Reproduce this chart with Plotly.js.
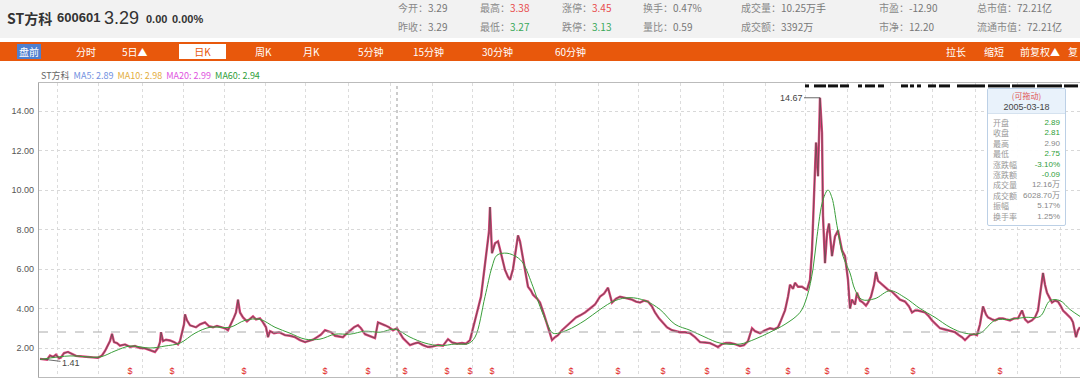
<!DOCTYPE html>
<html><head><meta charset="utf-8">
<script src="https://cdn.plot.ly/plotly-3.0.1.min.js"></script>
<style>
html,body{margin:0;padding:0;width:1080px;height:378px;overflow:hidden;background:#fff;font-family:"Noto Sans CJK SC","Liberation Sans",sans-serif;}
#chart{position:absolute;left:0;top:0;width:1092px;height:378px;}
.abs{position:absolute;white-space:nowrap;line-height:1.15;}
#hdr{position:absolute;left:0;top:0;width:1080px;height:38px;background:#f2f2f2;z-index:5;}
#nav{position:absolute;left:0;top:42px;width:1080px;height:19px;background:#e8580c;z-index:5;}
#tip{position:absolute;left:987px;top:88px;width:77px;height:136px;border:1px solid #bcd0e6;background:rgba(255,255,255,0.93);z-index:6;border-radius:2px;}
.tl{position:absolute;left:5px;font-size:8px;color:#999;line-height:9px;height:9px;white-space:nowrap;}
.tv{position:absolute;right:5px;font-size:8px;line-height:9px;height:9px;white-space:nowrap;font-family:"Liberation Sans","Noto Sans CJK SC",sans-serif;}
</style></head><body>
<div id="chart"></div>
<div id="hdr"></div>
<div id="nav"></div>
<div id="legend" class="abs" style="left:41px;top:71px;font-size:9px;z-index:5;"></div>
<div id="tip"></div>
<script>
// ---------- data ----------
const stockName = "ST方科";
const stockCode = "600601";
const lastPrice = "3.29";
const change = "0.00";
const changePct = "0.00%";
const statLabels1 = ["今开","最高","涨停","换手","成交量","市盈","总市值"];
const statValues1 = ["3.29","3.38","3.45","0.47%","10.25万手","-12.90","72.21亿"];
const statLabels2 = ["昨收","最低","跌停","量比","成交额","市净","流通市值"];
const statValues2 = ["3.29","3.27","3.13","0.59","3392万","12.20","72.21亿"];
const navLabels = ["盘前","分时","5日▲","日K","周K","月K","5分钟","15分钟","30分钟","60分钟","拉长","缩短","前复权▲","复"];
const maNames = ["MA5","MA10","MA20","MA60"];
const maValues = ["2.89","2.98","2.99","2.94"];
const tipDate = "2005-03-18";
const tipLabels = ["开盘","收盘","最高","最低","涨跌幅","涨跌额","成交量","成交额","振幅","换手率"];
const tipValues = ["2.89","2.81","2.90","2.75","-3.10%","-0.09","12.16万","6028.70万","5.17%","1.25%"];
const tipTrend = ["down","down","flat","down","down","down","flat","flat","flat","flat"];

// daily bar index (time) and close price
const closeBar = [1,5,8,11,14,17,20,22,25,29,33,37,41,47,53,59,63,66,69,71,
73,75,78,81,86,91,96,101,106,111,116,119,121,122,124,127,131,135,139,141,
143,145,146,148,151,154,157,161,166,170,174,178,182,186,189,192,195,197,199,201,
204,208,211,214,217,221,224,227,229,231,235,240,246,251,256,261,266,270,274,278,
282,286,289,292,296,300,304,307,311,315,319,322,326,331,336,339,342,346,350,354,
358,361,364,368,371,375,379,384,389,394,399,404,409,413,418,423,427,431,434,438,
442,445,448,450,451,453,456,459,461,464,466,469,471,474,476,478,479,481,484,487,
489,492,494,498,501,505,509,511,513,516,519,523,526,530,533,537,541,546,551,556,
561,565,569,571,573,577,581,585,589,593,597,601,605,609,613,616,620,624,628,633,
637,641,646,651,656,661,666,671,675,679,683,687,691,696,701,705,709,713,716,721,
726,731,735,739,742,746,749,751,754,756,759,763,766,768,771,773,774,776,777,779,
781,783,784,786,788,790,793,796,799,803,806,809,811,813,816,818,821,824,827,829,
832,835,837,839,841,845,849,853,856,861,866,870,873,876,879,883,886,890,893,897,
901,905,909,913,916,920,923,926,929,931,935,938,941,943,944,947,949,953,956,960,
964,967,971,975,979,981,983,986,989,993,996,999,1001,1003,1004,1006,1008,1011,1013,1016,
1019,1022,1024,1027,1029,1032,1034,1037,1039,1041];
const closeValue = [1.45,1.43,1.41,1.62,1.55,1.66,1.48,1.52,1.74,1.80,1.70,1.60,1.58,1.55,1.52,1.50,1.62,1.85,2.15,2.35,
2.72,2.30,2.25,2.12,2.18,2.06,2.10,2.00,1.98,1.90,1.80,2.00,2.30,2.80,2.35,2.42,2.38,2.30,2.18,2.35,
2.75,3.20,3.70,3.40,3.15,3.10,3.05,3.20,3.30,3.10,3.05,3.12,3.05,3.00,2.90,3.20,3.55,3.80,4.45,3.80,
3.55,3.35,3.50,3.60,3.45,3.50,3.30,3.05,2.55,2.85,2.75,2.80,2.65,2.62,2.55,2.40,2.30,2.35,2.42,2.55,
2.68,2.90,2.85,2.80,2.62,2.58,2.55,2.70,2.90,3.05,3.15,3.00,2.70,2.60,2.50,3.30,3.25,3.15,3.05,2.90,
3.00,2.75,2.50,2.30,2.15,2.22,2.28,2.15,2.05,2.08,2.15,2.12,2.45,2.28,2.22,2.25,2.22,2.40,3.05,3.80,
4.60,5.80,7.10,7.90,9.14,6.80,7.30,7.40,7.00,6.30,5.95,5.60,5.45,6.00,6.60,7.30,7.70,7.40,6.60,5.80,
5.10,4.90,4.70,4.50,4.30,3.70,3.05,2.70,2.40,2.55,2.65,2.90,3.05,3.20,3.40,3.55,3.65,3.80,4.00,4.20,
4.60,4.75,5.05,4.70,4.30,4.50,4.60,4.55,4.50,4.45,4.35,4.30,4.40,4.35,4.10,3.80,3.50,3.25,3.05,2.90,
2.85,2.80,2.80,2.75,2.55,2.30,2.28,2.25,2.15,2.05,2.20,2.25,2.25,2.20,2.10,2.15,2.35,3.00,2.85,2.75,
2.90,3.00,2.95,3.05,3.40,3.90,4.60,5.20,5.00,5.30,5.10,5.10,5.00,4.95,5.45,6.95,8.30,11.00,12.40,10.70,
14.67,12.90,8.70,6.30,7.80,8.30,6.65,7.65,7.95,6.95,6.65,5.45,4.00,4.45,4.20,4.80,4.40,4.30,4.15,4.30,
4.60,5.20,5.85,5.40,5.30,5.10,4.95,4.85,4.70,4.45,4.35,4.10,3.80,3.90,3.90,3.85,3.80,3.60,3.40,3.20,
3.00,2.95,2.90,2.85,2.80,2.65,2.55,2.40,2.55,2.65,2.70,2.65,3.20,3.90,4.10,3.70,3.55,3.45,3.40,3.50,
3.50,3.45,3.40,3.50,3.50,3.70,3.90,3.45,3.30,3.40,3.55,3.90,4.60,5.30,5.80,5.20,4.80,4.50,4.30,4.40,
4.35,4.10,3.90,3.75,3.65,3.50,3.30,2.55,2.90,3.05];

// MA60
const ma60Bar = [1,31,61,76,91,111,126,141,156,171,191,206,221,236,251,266,281,296,311,326,
341,356,371,386,401,416,429,436,446,453,458,468,478,484,494,501,508,514,528,546,
561,576,591,606,621,636,651,666,681,701,716,731,746,761,768,774,778,784,789,793,
798,804,811,816,823,836,851,866,881,896,911,926,941,956,971,986,1001,1011,1021,1031,1041];
const ma60Value = [1.42,1.60,1.55,1.85,2.10,2.00,2.10,2.25,2.75,3.05,3.05,3.40,3.45,3.05,2.75,2.45,2.45,2.70,2.70,2.85,
2.80,2.95,2.55,2.25,2.12,2.20,2.22,2.55,4.60,6.10,6.70,6.80,6.60,6.30,5.10,4.10,3.25,2.75,2.90,3.40,
3.95,4.40,4.55,4.40,3.95,3.20,2.90,2.55,2.25,2.20,2.45,2.80,3.20,3.80,4.60,6.00,7.65,9.50,10.00,9.60,
8.20,6.65,5.80,4.95,4.45,4.50,4.90,4.55,4.00,3.55,3.05,2.75,2.75,3.40,3.45,3.55,3.60,4.40,4.40,3.95,3.60];

const lowBar = 8, lowValue = 1.41;
const highBar = 781, highValue = 14.67;
const crossBar = 358, crossValue = 2.81;
const dividendBars = [91,133,205,286,329,366,408,431,453,532,579,624,668,709,749,788,828,874,961];
const eventStart = [766,775,789,801,819,826,839,862,871,878,889,900,918,949,973,998,1025];
const eventEnd   = [770,787,799,810,823,836,845,869,875,882,897,911,946,971,996,1023,1039];
const gridBars = [18,59,103,144,185,226,266,309,351,393,433,474,516,559,599,641,684,726,766,808,851,893,936,978,1021];
const priceTicks = [2,4,6,8,10,12,14];

// ---------- header / nav (HTML) ----------
const hdr = document.getElementById('hdr');
function add(parent, html, style){const d=document.createElement('div');d.className='abs';d.innerHTML=html;d.style.cssText+=style;parent.appendChild(d);return d;}
add(hdr, stockName, 'left:7px;top:10px;font-size:14px;font-weight:bold;color:#333;');
add(hdr, stockCode, 'left:57px;top:11px;font-size:13px;font-weight:bold;color:#333;font-family:"Liberation Sans",sans-serif;');
add(hdr, lastPrice, 'left:104px;top:8px;font-size:18px;color:#333;font-family:"Liberation Sans",sans-serif;');
add(hdr, change, 'left:146px;top:13px;font-size:11px;font-weight:bold;color:#333;font-family:"Liberation Sans",sans-serif;');
add(hdr, changePct, 'left:172px;top:13px;font-size:11px;font-weight:bold;color:#333;font-family:"Liberation Sans",sans-serif;');
const statX = [398,480,562,643,741,879,977];
const colorFor = {"最高":"#e84c4c","涨停":"#e84c4c","最低":"#3aa85a","跌停":"#3aa85a"};
for(let i=0;i<statLabels1.length;i++){
  add(hdr, statLabels1[i]+'：<span style="color:'+(colorFor[statLabels1[i]]||'#777')+'">'+statValues1[i]+'</span>', 'left:'+statX[i]+'px;top:2px;font-size:10px;color:#888;');
  add(hdr, statLabels2[i]+'：<span style="color:'+(colorFor[statLabels2[i]]||'#777')+'">'+statValues2[i]+'</span>', 'left:'+statX[i]+'px;top:21px;font-size:10px;color:#888;');
}
const nav = document.getElementById('nav');
const navX = [17,76,122,179,255,303,358,413,482,555,946,984,1020,1068];
for(let i=0;i<navLabels.length;i++){
  let st='left:'+navX[i]+'px;top:0;height:19px;line-height:19px;font-size:10px;color:#fff;';
  if(navLabels[i]==='盘前') st+='background:#4f7fcf;top:2px;height:15px;line-height:15px;padding:0 2px;';
  if(navLabels[i]==='日K') st+='background:#fff;color:#e8580c;top:2px;height:15px;line-height:15px;width:47px;text-align:center;';
  add(nav, navLabels[i], st);
}
const maColors = ['#6f8fe0','#e3ad3c','#e052e0','#2f9e3a'];
let lg = '<span style="color:#666">'+stockName+'</span>';
for(let i=0;i<maNames.length;i++) lg += '&nbsp;&nbsp;<span style="color:'+maColors[i]+'">'+maNames[i]+': '+maValues[i]+'</span>';
document.getElementById('legend').innerHTML = lg;

const tip = document.getElementById('tip');
add(tip, '', 'left:0;top:0;width:77px;height:24px;background:#e9f2fb;border-bottom:1px solid #d5e2ef;');
add(tip, '(可拖动)', 'left:0;top:2px;width:77px;height:10px;line-height:10px;text-align:center;font-size:8px;color:#e05555;');
add(tip, tipDate, 'left:0;top:13px;width:77px;height:10px;line-height:10px;text-align:center;font-size:9px;color:#444;font-family:"Liberation Sans",sans-serif;');
const trendColor = {down:'#2f9e3a', up:'#e84c4c', flat:'#888'};
for(let i=0;i<tipLabels.length;i++){
  const y = 29 + i*10.4;
  const l=document.createElement('div');l.className='tl';l.style.top=y+'px';l.textContent=tipLabels[i];tip.appendChild(l);
  const v=document.createElement('div');v.className='tv';v.style.top=y+'px';v.style.color=trendColor[tipTrend[i]];v.textContent=tipValues[i];tip.appendChild(v);
}

// ---------- chart ----------
const yMin = 0.532, yMax = 15.418;
const evX = [], evY = [];
for(let i=0;i<eventStart.length;i++){ evX.push(eventStart[i], eventEnd[i], null); evY.push(15.27,15.27,null); }
const traces = [
  {x: closeBar, y: closeValue, type:'scatter', mode:'lines', line:{color:'#e0457d', width:2.4}, hoverinfo:'skip'},
  {x: closeBar, y: closeValue, type:'scatter', mode:'lines', line:{color:'#5a4c4c', width:0.8}, hoverinfo:'skip'},
  {x: ma60Bar, y: ma60Value, type:'scatter', mode:'lines', line:{color:'#3a9e3a', width:1, shape:'spline'}, hoverinfo:'skip'},
  {x: dividendBars, y: dividendBars.map(()=>0.8), type:'scatter', mode:'text', text: dividendBars.map(()=>'$'), textfont:{color:'#e02828', size:9, family:'Liberation Sans'}, hoverinfo:'skip'},
  {x: evX, y: evY, type:'scatter', mode:'lines', line:{color:'#111', width:3}, hoverinfo:'skip'}
];
const layout = {
  width:1092, height:378,
  margin:{l:39, r:11, t:83, b:1},
  paper_bgcolor:'rgba(0,0,0,0)', plot_bgcolor:'#fff',
  showlegend:false,
  xaxis:{range:[0,1042], tickvals:gridBars, showticklabels:false, ticks:'', showgrid:true, gridcolor:'#dcdcdc', griddash:'dot', zeroline:false, showline:true, mirror:true, linecolor:'#bbbbbb', linewidth:1},
  yaxis:{range:[yMin,yMax], tickvals:priceTicks, tickformat:'.2f', ticks:'', showgrid:true, gridcolor:'#d8d8d8', griddash:'dot', zeroline:false, showline:true, linecolor:'#a6a6a6', linewidth:1.2, tickfont:{size:9, color:'#555', family:'Liberation Sans'}, ticklabelstandoff:2},
  shapes:[
    {type:'line', xref:'x', yref:'paper', x0:crossBar, x1:crossBar, y0:0, y1:1, line:{color:'#999', width:1, dash:'dot'}},
    {type:'line', xref:'paper', yref:'y', x0:0, x1:1, y0:crossValue, y1:crossValue, line:{color:'#aaa', width:1, dash:'dash'}}
  ],
  annotations:[
    {x:lowBar, y:lowValue, text:lowValue.toFixed(2), showarrow:true, arrowhead:0, arrowwidth:0.8, arrowcolor:'#444', ax:24, ay:3, font:{size:9, color:'#444', family:'Liberation Sans'}},
    {x:highBar, y:highValue, text:highValue.toFixed(2), showarrow:true, arrowhead:0, arrowwidth:0.8, arrowcolor:'#444', ax:-29, ay:0, font:{size:9, color:'#444', family:'Liberation Sans'}}
  ]
};
Plotly.newPlot('chart', traces, layout, {displayModeBar:false, staticPlot:true});
</script>
</body></html>
